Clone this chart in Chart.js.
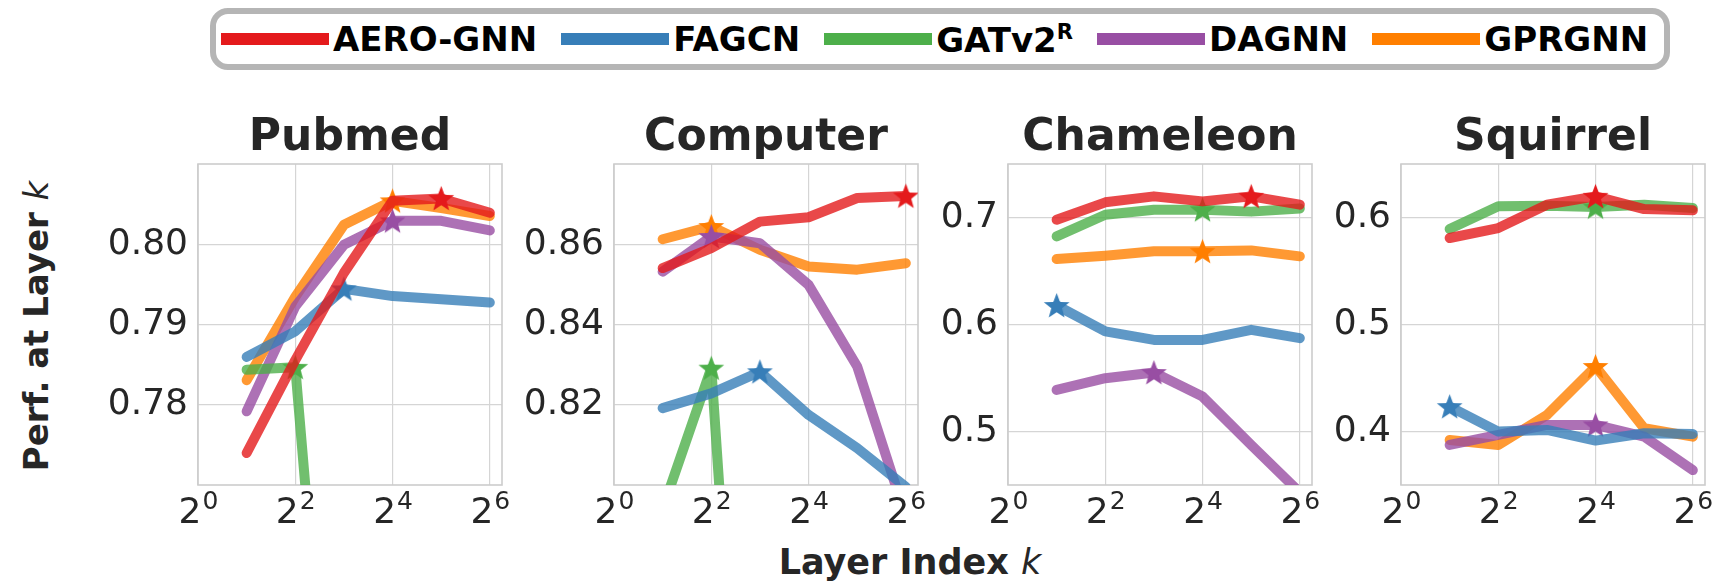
<!DOCTYPE html>
<html>
<head>
<meta charset="utf-8">
<script src="https://cdn.jsdelivr.net/npm/chart.js@4.4.1/dist/chart.umd.min.js"></script>
<style>
  body { margin: 0; width: 1719px; height: 585px; background: #fff; position: relative; overflow: hidden; font-family: 'DejaVu Sans', sans-serif; }
  canvas.plot { position: absolute; top: 100px; }
  #legend { position: absolute; left: 210px; top: 8px; width: 1460px; height: 62px; box-sizing: border-box; border: 6px solid #b5b5b5; border-radius: 18px; display: flex; align-items: center; padding-left: 5px; }
  .item { display: flex; align-items: center; margin-right: 24px; }
  .swatch { width: 108px; height: 12px; margin-right: 4px; }
  .name { font-weight: bold; font-size: 34px; color: #000; line-height: 1; white-space: nowrap; }
  .name sup { font-size: 0.62em; vertical-align: 0.6em; }
  #xlabel { position: absolute; left: 910px; top: 545px; transform: translateX(-50%); font-size: 35px; font-weight: bold; color: #262626; white-space: nowrap; line-height: 1; }
  #ylabel { position: absolute; left: 36px; top: 326px; transform: translate(-50%, -50%) rotate(-90deg); font-size: 34px; font-weight: bold; color: #262626; white-space: nowrap; line-height: 1; }
  .math { font-style: italic; font-weight: normal; }
</style>
</head>
<body>
<div id="legend"></div>
<div id="ylabel">Perf. at Layer <span class="math">k</span></div>
<div id="xlabel">Layer Index <span class="math">k</span></div>

<script>
//categories
const layers = [2, 4, 8, 16, 32, 64];
const methods = ['AERO-GNN', 'FAGCN', 'GATv2', 'DAGNN', 'GPRGNN'];
const graphs = ['Pubmed', 'Computer', 'Chameleon', 'Squirrel'];

//pubmed values (AERO, FAGCN, GATv2, DAGNN, GPRGNN)
const pubmedAero = [0.774, 0.7856, 0.7965, 0.8055, 0.8058, 0.804];
const pubmedFagcn = [0.786, 0.7892, 0.7945, 0.7936, 0.7932, 0.7928];
const pubmedGat = [0.7844, 0.7847, 0.713, null, null, null];
const pubmedDagnn = [0.7792, 0.7923, 0.8, 0.803, 0.803, 0.8018];
const pubmedGpr = [0.7831, 0.7935, 0.8025, 0.8055, 0.8046, 0.8036];

//computer values
const computerAero = [0.8542, 0.8592, 0.8658, 0.8669, 0.8717, 0.8722];
const computerFagcn = [0.8192, 0.8229, 0.8283, 0.8175, 0.8092, 0.7995];
const computerGat = [0.794, 0.8292, 0.65, null, null, null];
const computerDagnn = [0.8533, 0.8621, 0.8604, 0.85, 0.8296, 0.792];
const computerGpr = [0.8614, 0.8646, 0.8588, 0.8546, 0.8538, 0.8554];

//chameleon values
const chameleonAero = [0.6984, 0.7147, 0.7203, 0.7156, 0.7203, 0.7125];
const chameleonFagcn = [0.6181, 0.5938, 0.5859, 0.5859, 0.5953, 0.5875];
const chameleonGat = [0.6828, 0.7031, 0.7078, 0.7078, 0.706, 0.709];
const chameleonDagnn = [0.539, 0.55, 0.5553, 0.5328, 0.4875, 0.443];
const chameleonGpr = [0.6616, 0.6647, 0.6688, 0.6688, 0.6697, 0.6641];

//squirrel values
const squirrelAero = [0.5813, 0.5906, 0.6125, 0.6203, 0.6084, 0.6072];
const squirrelFagcn = [0.4234, 0.4, 0.4016, 0.3916, 0.3984, 0.3978];
const squirrelGat = [0.5897, 0.611, 0.6116, 0.6103, 0.6125, 0.6094];
const squirrelDagnn = [0.3875, 0.3969, 0.4063, 0.4063, 0.3953, 0.364];
const squirrelGpr = [0.3922, 0.3875, 0.4156, 0.461, 0.4031, 0.3953];

//index of the starred (best) layer per method
const pubmedBest = [4, 2, 1, 3, 3];
const computerBest = [5, 2, 1, 1, 1];
const chameleonBest = [4, 0, 3, 2, 3];
const squirrelBest = [3, 0, 3, 3, 3];

//axis limits and ticks
const yLimits = [[0.77, 0.8101], [0.8, 0.8802], [0.45, 0.7506], [0.35, 0.6506]];
const yTicks = [[0.78, 0.79, 0.8], [0.82, 0.84, 0.86], [0.5, 0.6, 0.7], [0.4, 0.5, 0.6]];
const yTickLabels = [['0.78', '0.79', '0.80'], ['0.82', '0.84', '0.86'], ['0.5', '0.6', '0.7'], ['0.4', '0.5', '0.6']];
const xTicks = [1, 4, 16, 64];
const xTickBase = '2';
const xTickExponents = ['0', '2', '4', '6'];
const xMax = Math.pow(2, 6.25);

const allValues = [
  [pubmedAero, pubmedFagcn, pubmedGat, pubmedDagnn, pubmedGpr],
  [computerAero, computerFagcn, computerGat, computerDagnn, computerGpr],
  [chameleonAero, chameleonFagcn, chameleonGat, chameleonDagnn, chameleonGpr],
  [squirrelAero, squirrelFagcn, squirrelGat, squirrelDagnn, squirrelGpr],
];
const allBest = [pubmedBest, computerBest, chameleonBest, squirrelBest];

//style
const colors = ['#e41a1c', '#377eb8', '#4daf4a', '#984ea3', '#ff7f00'];
const lineColors = ['rgba(228,26,28,0.8)', 'rgba(55,126,184,0.8)', 'rgba(77,175,74,0.8)', 'rgba(152,78,163,0.8)', 'rgba(255,127,0,0.8)'];
const plotLefts = [198, 614, 1008, 1401];
const textColor = '#262626';

//legend
const legend = document.querySelector('#legend');
methods.forEach((m, i) => {
  const item = document.createElement('div');
  item.className = 'item';
  const swatch = document.createElement('div');
  swatch.className = 'swatch';
  swatch.style.background = colors[i];
  const name = document.createElement('div');
  name.className = 'name';
  name.innerHTML = m === 'GATv2' ? 'GATv2<sup>R</sup>' : m;
  item.append(swatch, name);
  legend.append(item);
});

//star marker
const makeStar = (color) => {
  const R = 13.5;
  const r = R * 0.42;
  const c = document.createElement('canvas');
  c.width = 2 * R + 4;
  c.height = 2 * R + 4;
  const ctx = c.getContext('2d');
  ctx.translate(c.width / 2, c.height / 2 + 1);
  ctx.beginPath();
  for (let i = 0; i < 10; i++) {
    const rad = i % 2 === 0 ? R : r;
    const a = -Math.PI / 2 + (i * Math.PI) / 5;
    ctx.lineTo(rad * Math.cos(a), rad * Math.sin(a));
  }
  ctx.closePath();
  ctx.fillStyle = color;
  ctx.fill();
  return c;
};
const stars = colors.map(makeStar);

//frame around the plot area
const framePlugin = {
  id: 'frame',
  beforeDatasetsDraw(chart) {
    const { left, top, width, height } = chart.chartArea;
    const ctx = chart.ctx;
    ctx.save();
    ctx.strokeStyle = '#cccccc';
    ctx.lineWidth = 1.6;
    ctx.strokeRect(left, top, width, height);
    ctx.restore();
  },
};

//x tick labels as 2 with a raised exponent
const powerTicksPlugin = {
  id: 'powerTicks',
  afterDraw(chart) {
    const scale = chart.scales.x;
    const ctx = chart.ctx;
    const y = chart.chartArea.bottom + 38;
    ctx.save();
    ctx.fillStyle = textColor;
    ctx.textBaseline = 'alphabetic';
    ctx.textAlign = 'left';
    xTicks.forEach((v, i) => {
      const px = scale.getPixelForValue(v);
      ctx.font = '36px "DejaVu Sans"';
      const wBase = ctx.measureText(xTickBase).width;
      ctx.font = '25px "DejaVu Sans"';
      const wExp = ctx.measureText(xTickExponents[i]).width;
      const x0 = px - (wBase + wExp) / 2;
      ctx.font = '36px "DejaVu Sans"';
      ctx.fillText(xTickBase, x0, y);
      ctx.font = '25px "DejaVu Sans"';
      ctx.fillText(xTickExponents[i], x0 + wBase + 1, y - 14);
    });
    ctx.restore();
  },
};

const drawPanel = (g) => {
  const canvas = document.createElement('canvas');
  canvas.className = 'plot';
  canvas.width = 464;
  canvas.height = 440;
  canvas.style.left = plotLefts[g] - 130 + 'px';
  document.body.append(canvas);

  const datasets = methods.map((m, i) => ({
    label: m,
    data: layers.map((k, j) => ({ x: k, y: allValues[g][i][j] })),
    borderColor: lineColors[i],
    backgroundColor: colors[i],
    borderWidth: 10,
    borderCapStyle: 'round',
    borderJoinStyle: 'round',
    tension: 0,
    clip: 0,
    pointRadius: (ctx) => (ctx.dataIndex === allBest[g][i] ? 13 : 0),
    pointStyle: (ctx) => (ctx.dataIndex === allBest[g][i] ? stars[i] : 'circle'),
  }));

  new Chart(canvas, {
    type: 'line',
    data: { datasets },
    plugins: [framePlugin, powerTicksPlugin],
    options: {
      responsive: false,
      animation: false,
      events: [],
      layout: { padding: { right: 30 } },
      plugins: {
        legend: { display: false },
        tooltip: { enabled: false },
        title: {
          display: true,
          fullSize: false,
          text: graphs[g],
          color: textColor,
          font: { family: 'DejaVu Sans', size: 44, weight: 'bold', lineHeight: 1 },
          padding: { top: 17, bottom: 3 },
        },
      },
      scales: {
        x: {
          type: 'logarithmic',
          min: 1,
          max: xMax,
          afterBuildTicks: (scale) => {
            scale.ticks = xTicks.map((v) => ({ value: v }));
          },
          afterFit: (scale) => {
            scale.height = 55;
          },
          ticks: {
            autoSkip: false,
            maxRotation: 0,
            padding: 6,
            color: textColor,
            font: { family: 'DejaVu Sans', size: 36 },
            callback: () => '',
          },
          grid: { color: '#d5d5d5', lineWidth: 1.2, drawTicks: false },
          border: { display: false },
        },
        y: {
          min: yLimits[g][0],
          max: yLimits[g][1],
          afterBuildTicks: (scale) => {
            scale.ticks = yTicks[g].map((v) => ({ value: v }));
          },
          afterFit: (scale) => {
            scale.width = 130;
          },
          ticks: {
            autoSkip: false,
            padding: 10,
            color: textColor,
            font: { family: 'DejaVu Sans', size: 36 },
            callback: (v, idx) => yTickLabels[g][idx],
          },
          grid: { color: '#d5d5d5', lineWidth: 1.2, drawTicks: false },
          border: { display: false },
        },
      },
    },
  });
};

//main function
const main = () => {
  graphs.forEach((name, g) => drawPanel(g));
};

main();
</script>
</body>
</html>
